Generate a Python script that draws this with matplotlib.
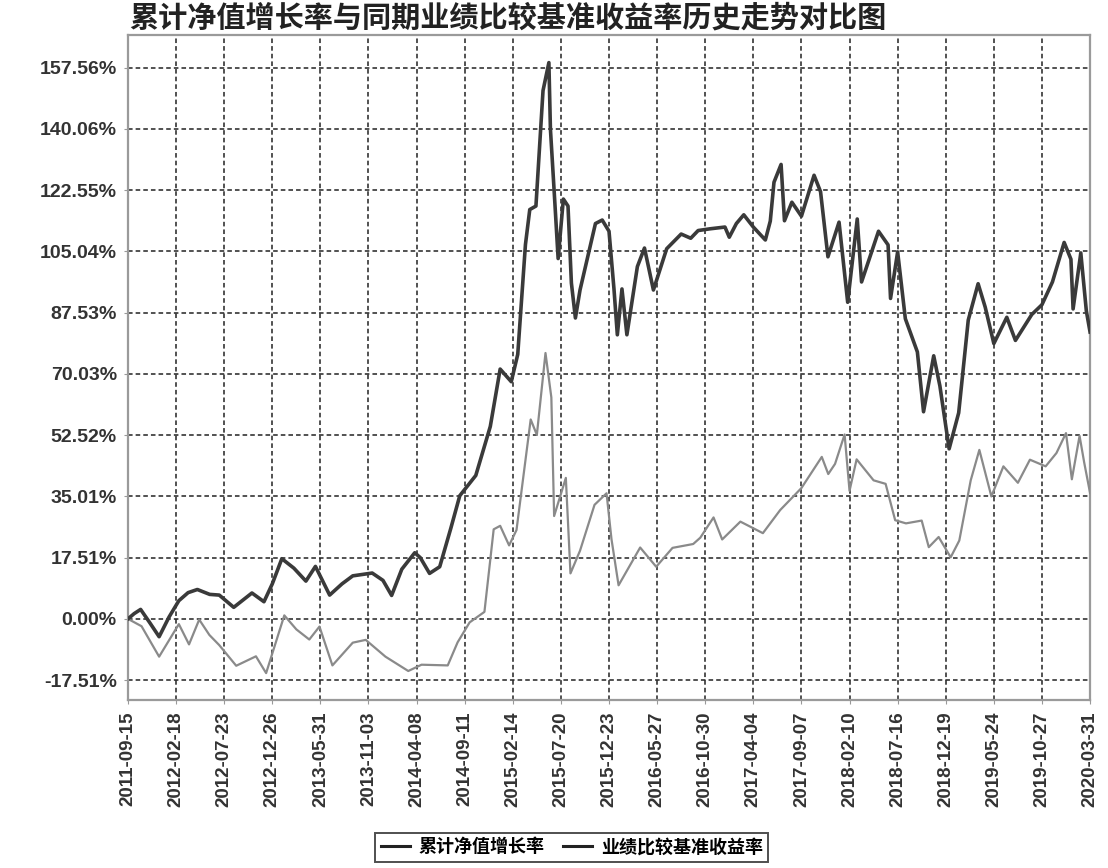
import pandas as pd
import matplotlib
matplotlib.use("Agg")
import matplotlib.pyplot as plt
import matplotlib.dates as mdates

plt.rcParams['font.family'] = ['Liberation Sans', 'Noto Sans CJK SC', 'DejaVu Sans']

# Fund cumulative NAV growth (%)
fund_dates = [
    "2011-09-15", "2011-10-05", "2011-10-26", "2011-11-24", "2011-12-25", "2012-01-26",
    "2012-02-27", "2012-03-28", "2012-04-27", "2012-06-06", "2012-07-07", "2012-08-23",
    "2012-10-21", "2012-11-29", "2012-12-26", "2013-01-26", "2013-03-06", "2013-04-14",
    "2013-05-15", "2013-06-30", "2013-08-09", "2013-09-13", "2013-11-15", "2013-12-20",
    "2014-01-17", "2014-02-19", "2014-04-02", "2014-04-20", "2014-05-20", "2014-06-22",
    "2014-07-28", "2014-08-26", "2014-10-17", "2014-12-03", "2015-01-04", "2015-02-09",
    "2015-03-02", "2015-03-27", "2015-04-10", "2015-04-30", "2015-05-23", "2015-06-11",
    "2015-06-16", "2015-07-01", "2015-07-11", "2015-07-28", "2015-08-12", "2015-08-23",
    "2015-09-05", "2015-09-20", "2015-11-09", "2015-12-01", "2015-12-23", "2016-01-08",
    "2016-01-19", "2016-02-03", "2016-02-19", "2016-03-24", "2016-04-16", "2016-05-15",
    "2016-06-27", "2016-08-13", "2016-09-13", "2016-10-07", "2016-11-15", "2017-01-02",
    "2017-01-16", "2017-02-08", "2017-03-04", "2017-04-04", "2017-05-13", "2017-05-29",
    "2017-06-10", "2017-07-03", "2017-07-14", "2017-08-07", "2017-09-07", "2017-10-18",
    "2017-11-08", "2017-12-02", "2018-01-07", "2018-02-04", "2018-03-07", "2018-03-21",
    "2018-05-15", "2018-06-15", "2018-06-23", "2018-07-16", "2018-08-10", "2018-09-18",
    "2018-10-08", "2018-11-10", "2018-11-30", "2018-12-30", "2019-01-30", "2019-03-02",
    "2019-04-03", "2019-04-26", "2019-05-24", "2019-07-05", "2019-08-02", "2019-09-24",
    "2019-10-27", "2019-11-30", "2020-01-07", "2020-01-29", "2020-02-05", "2020-03-01",
    "2020-03-19", "2020-03-31",
]
fund_values = [
    0.0, 1.5, 2.7, -1.0, -5.1, 0.5,
    5.2, 7.5, 8.4, 7.0, 6.8, 3.3,
    7.4, 4.9, 10.0, 17.2, 14.5, 10.8,
    15.0, 6.8, 10.0, 12.3, 13.1, 11.0,
    6.7, 14.2, 18.9, 17.5, 13.0, 14.9,
    25.9, 35.2, 41.0, 55.0, 71.4, 67.8,
    75.6, 107.0, 117.0, 118.0, 151.0, 159.0,
    140.0, 118.0, 103.0, 120.0, 118.0, 96.0,
    86.0, 94.0, 113.0, 114.0, 110.8, 94.4,
    81.2, 94.3, 81.2, 100.7, 106.0, 94.0,
    105.8, 110.0, 108.8, 111.0, 111.5, 112.0,
    109.1, 113.0, 115.5, 112.0, 108.3, 113.7,
    124.8, 129.9, 113.8, 119.1, 115.1, 126.8,
    122.1, 103.5, 113.4, 90.5, 114.3, 96.3,
    110.8, 106.9, 91.6, 104.9, 85.8, 76.3,
    59.2, 75.2, 66.6, 48.6, 58.9, 85.4,
    95.8, 89.1, 78.7, 86.2, 79.6, 87.0,
    89.8, 96.3, 107.6, 102.8, 88.6, 104.6,
    88.0, 82.0,
]

# Benchmark return (%)
bench_dates = [
    "2011-09-15", "2011-10-29", "2011-12-25", "2012-02-27", "2012-03-31", "2012-05-03",
    "2012-06-05", "2012-07-07", "2012-08-31", "2012-11-03", "2012-12-06", "2013-02-03",
    "2013-03-14", "2013-04-25", "2013-05-28", "2013-07-09", "2013-09-13", "2013-10-25",
    "2013-12-28", "2014-03-12", "2014-04-24", "2014-07-18", "2014-08-19", "2014-09-27",
    "2014-11-14", "2014-12-14", "2015-01-04", "2015-02-02", "2015-02-26", "2015-04-13",
    "2015-05-03", "2015-05-31", "2015-06-19", "2015-06-28", "2015-08-05", "2015-08-20",
    "2015-09-20", "2015-11-06", "2015-12-15", "2015-12-31", "2016-01-23", "2016-02-27",
    "2016-04-02", "2016-05-24", "2016-07-16", "2016-09-21", "2016-10-14", "2016-11-26",
    "2016-12-24", "2017-02-21", "2017-05-05", "2017-06-30", "2017-09-07", "2017-11-12",
    "2017-12-03", "2017-12-25", "2018-01-25", "2018-02-10", "2018-03-05", "2018-04-29",
    "2018-06-07", "2018-07-08", "2018-08-12", "2018-10-02", "2018-10-25", "2018-11-26",
    "2019-01-04", "2019-02-01", "2019-03-10", "2019-04-07", "2019-05-16", "2019-06-24",
    "2019-08-10", "2019-09-18", "2019-11-08", "2019-12-13", "2020-01-13", "2020-02-01",
    "2020-02-26", "2020-03-12", "2020-03-31",
]
bench_values = [
    0.0, -2.1, -10.8, -1.5, -7.3, -0.2,
    -4.6, -7.5, -13.4, -10.7, -15.5, 1.0,
    -3.0, -5.9, -2.2, -13.3, -6.8, -6.0,
    -10.8, -14.9, -13.1, -13.3, -6.7, -1.0,
    2.0, 25.6, 26.6, 21.0, 25.4, 57.0,
    52.6, 76.0, 63.3, 29.4, 40.3, 13.0,
    19.5, 32.6, 35.9, 22.8, 9.6, 15.0,
    20.4, 14.9, 20.3, 21.4, 23.2, 29.0,
    22.7, 27.8, 24.5, 31.1, 37.4, 46.3,
    41.4, 44.3, 52.7, 36.6, 45.6, 39.6,
    38.6, 28.2, 27.3, 28.1, 20.5, 23.4,
    17.6, 22.4, 39.6, 48.3, 35.0, 43.6,
    38.9, 45.5, 43.6, 47.4, 53.1, 39.9,
    52.3, 44.7, 36.0,
]

tick_dates = [
    "2011-09-15", "2012-02-18", "2012-07-23", "2012-12-26", "2013-05-31", "2013-11-03",
    "2014-04-08", "2014-09-11", "2015-02-14", "2015-07-20", "2015-12-23", "2016-05-27",
    "2016-10-30", "2017-04-04", "2017-09-07", "2018-02-10", "2018-07-16", "2018-12-19",
    "2019-05-24", "2019-10-27", "2020-03-31",
]
y_ticks = [-17.51, 0.00, 17.51, 35.01, 52.52, 70.03, 87.53, 105.04, 122.55, 140.06, 157.56]

title = "累计净值增长率与同期业绩比较基准收益率历史走势对比图"
fund_label = "累计净值增长率"
bench_label = "业绩比较基准收益率"

fund_x = pd.to_datetime(fund_dates)
bench_x = pd.to_datetime(bench_dates)
ticks_x = pd.to_datetime(tick_dates)

fig = plt.figure(figsize=(11.08, 8.68), dpi=100)
ax = fig.add_axes([0.1155, 0.1935, 0.8683, 0.7662])

ax.plot(bench_x, bench_values, color='#8a8a8a', linewidth=1.6, zorder=3, label=bench_label)
ax.plot(fund_x, fund_values, color='#3a3a3a', linewidth=2.6, zorder=4, label=fund_label)

ax.set_xlim(ticks_x[0], ticks_x[-1])
ax.set_ylim(-23.2, 166.9)

ax.set_xticks(ticks_x)
ax.xaxis.set_major_formatter(mdates.DateFormatter('%Y-%m-%d'))
ax.set_yticks(y_ticks)
ax.set_yticklabels([f"{v:.2f}%" for v in y_ticks])

for lbl in ax.get_xticklabels():
    lbl.set_rotation(90)
    lbl.set_fontsize(13.5)
    lbl.set_fontweight('bold')
    lbl.set_color('#333333')
for lbl in ax.get_yticklabels():
    lbl.set_fontsize(14)
    lbl.set_fontweight('bold')
    lbl.set_color('#333333')

ax.tick_params(axis='both', length=3, color='#999999', pad=5)
ax.grid(True, color='#222222', linestyle=(0, (3, 2)), linewidth=1.1)

for side in ax.spines.values():
    side.set_color('#9a9a9a')
    side.set_linewidth(1.6)

fig.text(0.117, 0.979, title, fontsize=21, fontweight='bold', color='#222222',
         ha='left', va='center')

# legend order: fund first
handles, labels = ax.get_legend_handles_labels()
leg = fig.legend(handles[::-1], labels[::-1], loc='center', bbox_to_anchor=(0.516, 0.024),
                 ncol=2, frameon=True, fancybox=False, fontsize=13,
                 handlelength=1.6, columnspacing=1.0, handletextpad=0.5, borderpad=0.3)
leg.get_frame().set_edgecolor('#222222')
leg.get_frame().set_linewidth(1.4)
for line in leg.get_lines():
    line.set_color('#222222')
    line.set_linewidth(2.2)
for t in leg.get_texts():
    t.set_fontweight('bold')

fig.savefig('out.png', dpi=100)
